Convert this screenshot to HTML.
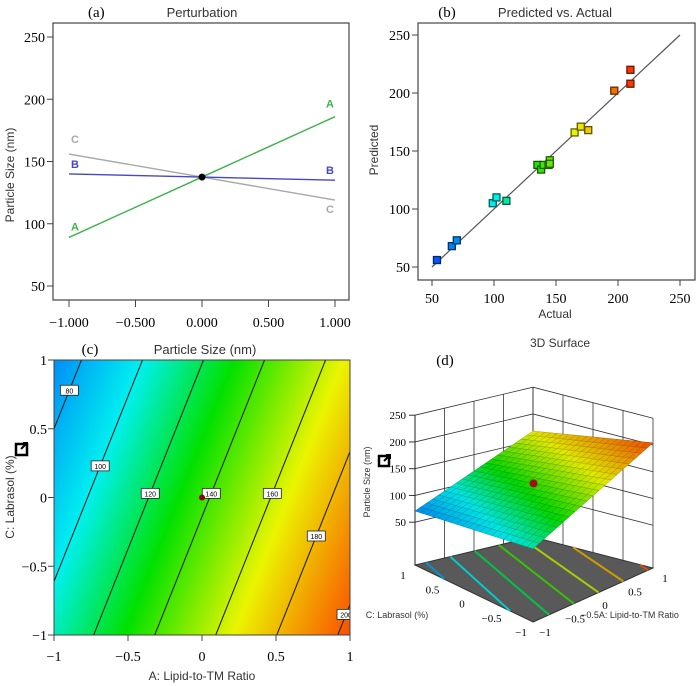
<!DOCTYPE html>
<html><head><meta charset="utf-8">
<style>
html,body{margin:0;padding:0;background:#fff;}
#wrap{position:relative;width:700px;height:686px;overflow:hidden;}
canvas{position:absolute;left:54px;top:360px;}
svg{position:absolute;left:0;top:0;}
.s{font-family:"Liberation Sans",sans-serif;}
.r{font-family:"Liberation Serif",serif;}
</style></head>
<body>
<div id="wrap">
<canvas id="heat" width="296" height="275"></canvas>
<svg id="svg" width="700" height="686">
<defs><clipPath id="clipc"><rect x="54" y="360" width="296" height="275"/></clipPath></defs>
<text x="88" y="17" class="r" font-size="15">(a)</text>
<text x="202" y="17" class="s" font-size="13" text-anchor="middle" fill="#333">Perturbation</text>
<text x="14" y="175" class="s" font-size="12" text-anchor="middle" transform="rotate(-90 14 175)" fill="#333">Particle Size (nm)</text>
<text x="447" y="17" class="r" font-size="15" text-anchor="middle">(b)</text>
<text x="555" y="17" class="s" font-size="13" text-anchor="middle" fill="#333">Predicted vs. Actual</text>
<text x="378" y="150" class="s" font-size="12" text-anchor="middle" transform="rotate(-90 378 150)" fill="#333">Predicted</text>
<text x="555" y="318" class="s" font-size="12" text-anchor="middle" fill="#333">Actual</text>
<text x="90" y="354" class="r" font-size="15" text-anchor="middle">(c)</text>
<text x="205" y="354" class="s" font-size="13" text-anchor="middle" fill="#333">Particle Size (nm)</text>
<text x="202" y="680" class="s" font-size="12" text-anchor="middle" fill="#333">A: Lipid-to-TM Ratio</text>
<text x="14" y="497" class="s" font-size="12" text-anchor="middle" transform="rotate(-90 14 497)" fill="#333">C: Labrasol (%)</text>
<text x="560" y="347" class="s" font-size="12" text-anchor="middle" fill="#333">3D Surface</text>
<text x="445" y="365" class="r" font-size="15" text-anchor="middle">(d)</text>
<text x="370" y="482" class="s" font-size="9" text-anchor="middle" transform="rotate(-90 370 482)" fill="#333">Particle Size (nm)</text>
<text x="397" y="618" class="s" font-size="9" text-anchor="middle" fill="#333">C: Labrasol (%)</text>
<text x="630" y="618" class="s" font-size="9" text-anchor="middle" fill="#333">−0.5A: Lipid-to-TM Ratio</text>
<g><rect x="16" y="444" width="11" height="11" fill="#fff" stroke="#000" stroke-width="2.5"/><path d="M21 449 L27 443 M23 443 L27 443 L27 447" stroke="#000" stroke-width="2" fill="none"/></g>
<g><rect x="379" y="456" width="10" height="10" fill="#fff" stroke="#000" stroke-width="2.5"/><path d="M384 461 L390 455 M386 455 L390 455 L390 459" stroke="#000" stroke-width="2" fill="none"/></g>
</svg>
</div>
<script>
// ---- data: (a) perturbation ----
const pertFactors=['A','B','C'];
const pertLeft=[89,140,156];
const pertRight=[186,135,119];
const pertCenter=137.5;
const pertXTicks=[-1,-0.5,0,0.5,1];
const pertXLabels=['−1.000','−0.500','0.000','0.500','1.000'];
const pertYTicks=[50,100,150,200,250];
// ---- data: (b) predicted vs actual ----
const actualVals=[54,66,70,99,102,110,135,138,140,144,145,145,165,170,176,197,210,210];
const predictedVals=[56,68,73,105,110,107,138,134,138,138,142,139,166,171,168,202,220,208];
const pvTicks=[50,100,150,200,250];
// ---- data: (c)/(d) model ----
const modelIntercept=[137.5];
const modelCoefA=[48.5];
const modelCoefC=[-18];
const contourLevels=[80,100,120,140,160,180,200];
const contourLabelC=[0.78,0.23,0.03,0.03,0.03,-0.28,-0.85];
const cTicks=[-1,-0.5,0,0.5,1];
const cTickLabels=['−1','−0.5','0','0.5','1'];
const zTicks=[50,100,150,200,250];

const NS='http://www.w3.org/2000/svg';
const svg=document.getElementById('svg');
function mk(tag,attrs,parent){const e=document.createElementNS(NS,tag);for(const k in attrs)e.setAttribute(k,attrs[k]);(parent||svg).appendChild(e);return e;}
function model(a,c){return modelIntercept[0]+modelCoefA[0]*a+modelCoefC[0]*c;}
const stops=[[40,[0,40,255]],[100,[0,240,240]],[130,[0,225,0]],[166,[235,245,0]],[218,[255,20,0]]];
function cmap(v){if(v<=stops[0][0])return stops[0][1];for(let i=1;i<stops.length;i++){if(v<=stops[i][0]){const t=(v-stops[i-1][0])/(stops[i][0]-stops[i-1][0]);const a=stops[i-1][1],b=stops[i][1];return [0,1,2].map(j=>Math.round(a[j]+(b[j]-a[j])*t));}}return stops[stops.length-1][1];}
function rgb(v,f){const c=cmap(v);f=f||1;return 'rgb('+c.map(x=>Math.round(x*f)).join(',')+')';}

// ===== Panel (a) =====
const xa=v=>69+(v+1)*133, ya=v=>286-(v-50)*1.245;
let e=mk('rect',{x:53,y:23,width:296,height:277,fill:'none',stroke:'#444','stroke-width':1.2});


pertYTicks.forEach(t=>{
 let l=mk('line',{x1:47,x2:53,y1:ya(t),y2:ya(t),stroke:'#444'});
 
 
 let tx=mk('text',{x:45,y:ya(t)+5,'text-anchor':'end','font-size':14,class:'r'});tx.textContent=t;
 
 
});
pertXTicks.forEach((t,i)=>{
 let l=mk('line',{x1:xa(t),x2:xa(t),y1:300,y2:307,stroke:'#444'});
 
 
 let tx=mk('text',{x:xa(t),y:327,'text-anchor':'middle','font-size':14,class:'r'});tx.textContent=pertXLabels[i];
 
 
});
const pertColors={A:'#3fb24a',B:'#4646c8',C:'#a8a8a8'};
const pertOrder=[2,1,0];
pertOrder.forEach(i=>{
 const f=pertFactors[i],col=pertColors[f];
 let p=mk('polyline',{points:[xa(-1),ya(pertLeft[i]),xa(0),ya(pertCenter),xa(1),ya(pertRight[i])].join(' '),fill:'none',stroke:col,'stroke-width':1.4});
 
 
 const lyL=(f==='C')?-11:(f==='B')?-6:-7;
 const lyR=(f==='C')?13:(f==='B')?-6:-9;
 let t1=mk('text',{x:xa(-1)+2,y:ya(pertLeft[i])+lyL,'font-size':11,'font-weight':'bold',fill:col,class:'s'});t1.textContent=f;
 
 
 let t2=mk('text',{x:xa(1)-9,y:ya(pertRight[i])+lyR,'font-size':11,'font-weight':'bold',fill:col,class:'s'});t2.textContent=f;
 
 
});
e=mk('circle',{cx:xa(0),cy:ya(pertCenter),r:3.5,fill:'#000'});



// ===== Panel (b) =====
const xb=v=>432+(v-50)*1.24, yb=v=>267-(v-50)*1.16;
e=mk('rect',{x:418,y:23,width:277,height:257,fill:'none',stroke:'#444','stroke-width':1.2});


pvTicks.forEach(t=>{
 let l=mk('line',{x1:412,x2:418,y1:yb(t),y2:yb(t),stroke:'#444'});
 
 
 let tx=mk('text',{x:410,y:yb(t)+5,'text-anchor':'end','font-size':14,class:'r'});tx.textContent=t;
 
 
 let l2=mk('line',{x1:xb(t),x2:xb(t),y1:280,y2:286,stroke:'#444'});
 
 
 let tx2=mk('text',{x:xb(t),y:303,'text-anchor':'middle','font-size':14,class:'r'});tx2.textContent=t;
 
 
});
e=mk('line',{x1:xb(50),y1:yb(50),x2:xb(250),y2:yb(250),stroke:'#555','stroke-width':1.2});


actualVals.forEach((a,i)=>{
 const p=predictedVals[i];
 let r=mk('rect',{x:xb(a)-3.5,y:yb(p)-3.5,width:7,height:7,fill:rgb(a),stroke:rgb(a,0.4),'stroke-width':1.3});
 
 
});

// ===== Panel (c) =====
const xc=a=>54+(a+1)*148, yc=c=>497.5-c*137.5;
const cv=document.getElementById('heat').getContext('2d');
const img=cv.createImageData(296,275);
for(let py=0;py<275;py++)for(let px=0;px<296;px++){
 const a=px/295*2-1,c=1-py/274*2;const col=cmap(model(a,c));const k=(py*296+px)*4;
 img.data[k]=col[0];img.data[k+1]=col[1];img.data[k+2]=col[2];img.data[k+3]=255;}
cv.putImageData(img,0,0);
const gc=mk('g',{'clip-path':'url(#clipc)'});


contourLevels.forEach((L,i)=>{
 const aAt=c=>(L-modelIntercept[0]-modelCoefC[0]*c)/modelCoefA[0];
 let l=mk('line',{x1:xc(aAt(-1.2)),y1:yc(-1.2),x2:xc(aAt(1.2)),y2:yc(1.2),stroke:'#222','stroke-width':1.1},gc);
 
 
 const lc=contourLabelC[i],lx=xc(aAt(lc)),ly=yc(lc);
 let r=mk('rect',{x:lx-9,y:ly-5,width:18,height:10,fill:'#fff',stroke:'#222','stroke-width':0.8},gc);
 
 
 let t=mk('text',{x:lx,y:ly+3,'text-anchor':'middle','font-size':7,class:'s'},gc);t.textContent=L;
 
 
});
e=mk('circle',{cx:xc(0),cy:yc(0),r:3,fill:'#8b0000'});


e=mk('rect',{x:54,y:360,width:296,height:275,fill:'none',stroke:'#444','stroke-width':1});


cTicks.forEach((t,i)=>{
 let l=mk('line',{x1:xc(t),x2:xc(t),y1:635,y2:641,stroke:'#444'});
 
 
 let tx=mk('text',{x:xc(t),y:661,'text-anchor':'middle','font-size':14,class:'r'});tx.textContent=cTickLabels[i];
 
 
 let l2=mk('line',{x1:48,x2:54,y1:yc(t),y2:yc(t),stroke:'#444'});
 
 
 let tx2=mk('text',{x:47,y:yc(t)+5,'text-anchor':'end','font-size':14,class:'r'});tx2.textContent=cTickLabels[i];
 
 
});

// ===== Panel (d) 3D =====
const F={front:[533,622],left:[415,565],right:[653,568],back:[533,537]};
const zmin=-30,zk=0.535;
function P(a,c,z){const s=(a+1)/2,t=(c+1)/2;
 const x=F.front[0]*(1-s)*(1-t)+F.right[0]*s*(1-t)+F.left[0]*(1-s)*t+F.back[0]*s*t;
 const y=F.front[1]*(1-s)*(1-t)+F.right[1]*s*(1-t)+F.left[1]*(1-s)*t+F.back[1]*s*t;
 return [x,y-(z-zmin)*zk];}
function pts(arr){return arr.map(p=>p.join(',')).join(' ');}
const gd=mk('g',{});


const gridVals=[-1,-0.5,0,0.5,1];
gridVals.forEach(v=>{
 let l=mk('line',{x1:P(v,1,zmin)[0],y1:P(v,1,zmin)[1],x2:P(v,1,250)[0],y2:P(v,1,250)[1],stroke:'#333','stroke-width':0.8},gd);
 
 
 let l2=mk('line',{x1:P(1,v,zmin)[0],y1:P(1,v,zmin)[1],x2:P(1,v,250)[0],y2:P(1,v,250)[1],stroke:'#333','stroke-width':0.8},gd);
 
 
});
zTicks.forEach(z=>{
 let l=mk('polyline',{points:pts([P(-1,1,z),P(1,1,z),P(1,-1,z)]),fill:'none',stroke:'#333','stroke-width':0.8},gd);
 
 
 const p=P(-1,1,z);
 let tk=mk('line',{x1:p[0]-6,y1:p[1],x2:p[0],y2:p[1],stroke:'#333'},gd);
 
 
 let tx=mk('text',{x:p[0]-9,y:p[1]+4,'text-anchor':'end','font-size':11,class:'r'},gd);tx.textContent=z;
 
 
});
e=mk('polygon',{points:pts([P(-1,-1,zmin),P(1,-1,zmin),P(1,1,zmin),P(-1,1,zmin)]),fill:'#595959',stroke:'#333'},gd);


contourLevels.forEach(L=>{
 const aAt=c=>(L-modelIntercept[0]-modelCoefC[0]*c)/modelCoefA[0];
 const cForA=a=>(L-modelIntercept[0]-modelCoefA[0]*a)/modelCoefC[0];
 let ca=cForA(-1),cb=cForA(1);let lo=Math.max(-1,Math.min(ca,cb)),hi=Math.min(1,Math.max(ca,cb));
 if(lo>=hi)return;
 let l=mk('line',{x1:P(aAt(lo),lo,zmin)[0],y1:P(aAt(lo),lo,zmin)[1],x2:P(aAt(hi),hi,zmin)[0],y2:P(aAt(hi),hi,zmin)[1],stroke:rgb(L,0.85),'stroke-width':2},gd);
 
 
});
e=mk('line',{x1:P(-1,1,zmin)[0],y1:P(-1,1,zmin)[1],x2:P(-1,1,250)[0],y2:P(-1,1,250)[1],stroke:'#222'},gd);


const N=20,quads=[];
for(let i=0;i<N;i++)for(let j=0;j<N;j++){const a0=-1+2*i/N,a1=a0+2/N,c0=-1+2*j/N,c1=c0+2/N;quads.push([a0,a1,c0,c1]);}
quads.sort((p,q)=>(q[0]+q[2])-(p[0]+p[2]));
quads.forEach(q=>{
 const [a0,a1,c0,c1]=q;const v=model((a0+a1)/2,(c0+c1)/2);
 let pg=mk('polygon',{points:pts([P(a0,c0,model(a0,c0)),P(a1,c0,model(a1,c0)),P(a1,c1,model(a1,c1)),P(a0,c1,model(a0,c1))]),fill:rgb(v,0.95),stroke:rgb(v,0.7),'stroke-width':0.5},gd);
 
 
});
e=mk('circle',{cx:P(0,0,pertCenter)[0],cy:P(0,0,pertCenter)[1],r:4,fill:'#a01010'},gd);


cTicks.forEach((t,i)=>{
 const p=P(-1,t,zmin);
 let tx=mk('text',{x:p[0]-12,y:p[1]+14,'text-anchor':'middle','font-size':11,class:'r'},gd);tx.textContent=cTickLabels[i];
 
 
 const q=P(t,-1,zmin);
 let tx2=mk('text',{x:q[0]+12,y:q[1]+14,'text-anchor':'middle','font-size':11,class:'r'},gd);tx2.textContent=cTickLabels[i];
 
 
});
</script>
</body></html>
